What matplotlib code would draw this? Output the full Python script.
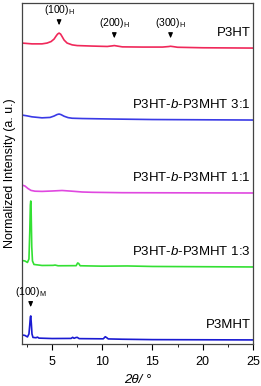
import numpy as np
import matplotlib
matplotlib.use("Agg")
import matplotlib.pyplot as plt
from matplotlib.ticker import MultipleLocator

plt.rcParams['font.family'] = ['Liberation Sans', 'DejaVu Sans']
plt.rcParams['mathtext.fontset'] = 'custom'
plt.rcParams['mathtext.rm'] = 'Liberation Sans'
plt.rcParams['mathtext.it'] = 'Liberation Sans:italic'

# 2theta / intensity (arbitrary units)
x_p3ht = [2.0, 3.0, 4.0, 4.5, 4.9, 5.2, 5.4, 5.55, 5.7, 5.85, 6.0, 6.2, 6.5, 7.0, 7.5, 9.0, 10.5, 11.0, 11.2, 11.5, 12.0, 14.0, 16.0, 16.6, 16.8, 17.1, 17.5, 20.0, 25.0]
y_p3ht = [5.0, 4.2, 4.2, 5.0, 6.5, 9.0, 12.0, 14.0, 15.0, 14.0, 11.5, 8.0, 5.0, 3.2, 2.5, 2.0, 1.6, 2.2, 2.5, 2.0, 1.2, 1.0, 1.0, 1.5, 1.8, 1.4, 0.8, 0.3, 0.0]

x_31 = [2.0, 2.5, 3.0, 4.0, 4.8, 5.2, 5.5, 5.7, 5.9, 6.2, 6.6, 7.0, 8.0, 11.0, 15.0, 25.0]
y_31 = [5.0, 4.2, 3.2, 2.2, 2.6, 4.0, 5.5, 6.0, 5.4, 3.8, 2.4, 1.8, 1.5, 1.0, 0.5, 0.0]

x_11 = [2.0, 2.3, 2.6, 2.9, 3.3, 4.0, 5.0, 6.0, 7.0, 8.0, 9.0, 12.0, 25.0]
y_11 = [8.0, 7.0, 4.5, 2.6, 1.8, 1.6, 2.0, 2.5, 1.8, 1.0, 0.7, 0.3, 0.0]

x_13 = [2.0, 2.3, 2.55, 2.7, 2.78, 2.84, 2.88, 2.92, 2.98, 3.05, 3.2, 4.0, 5.1, 5.3, 5.6, 7.4, 7.55, 7.65, 7.8, 10.0, 12.5, 15.0, 25.0]
y_13 = [6.5, 6.0, 4.5, 8.0, 35.0, 62.0, 66.0, 55.0, 20.0, 6.0, 2.5, 1.5, 1.6, 1.9, 1.2, 1.3, 4.0, 3.5, 1.2, 0.8, 1.0, 0.5, 0.0]

x_m = [2.0, 2.3, 2.55, 2.7, 2.78, 2.84, 2.88, 2.94, 3.0, 3.1, 3.4, 3.55, 3.7, 5.0, 6.9, 7.05, 7.2, 7.35, 7.5, 7.7, 10.1, 10.3, 10.45, 10.6, 12.0, 15.0, 25.0]
y_m = [5.0, 4.5, 3.0, 6.0, 15.0, 23.0, 24.0, 16.0, 6.0, 2.5, 2.2, 2.8, 1.8, 1.4, 1.5, 2.6, 1.6, 2.3, 2.6, 1.3, 1.1, 3.2, 2.2, 1.0, 0.7, 0.3, 0.0]

series = [
    (x_p3ht, y_p3ht, 296, '#f0285a', 'P3HT'),
    (x_31, y_31, 224, '#3a3ae6', r'P3HT-$\mathit{b}$-P3MHT 3:1'),
    (x_11, y_11, 151, '#e048e0', r'P3HT-$\mathit{b}$-P3MHT 1:1'),
    (x_13, y_13, 77, '#33e033', r'P3HT-$\mathit{b}$-P3MHT 1:3'),
    (x_m, y_m, 4, '#1a1ad2', 'P3MHT'),
]

fig = plt.figure(figsize=(2.61, 3.86), dpi=100)
ax = fig.add_axes([0.084, 0.109, 0.885, 0.883])

for xs, ys, off, col, name in series:
    ax.plot(xs, np.array(ys) + off, color=col, lw=1.2)
    ax.text(24.75, off + 9, name, ha='right', va='bottom', fontsize=9.5)

# peak markers
peaks = [(5.7, 316, r'(100)$_{\rm H}$'),
         (11.2, 303, r'(200)$_{\rm H}$'),
         (16.8, 303, r'(300)$_{\rm H}$'),
         (2.87, 34, r'(100)$_{\rm M}$')]
for px, py, lab in peaks:
    ax.annotate('', xy=(px, py), xytext=(px, py + 9),
                arrowprops=dict(arrowstyle='-|>,head_length=0.3,head_width=0.13',
                                color='black', lw=0.8))
    ax.text(px, py + 11, lab, ha='center', va='bottom', fontsize=7.5)

ax.set_xlim(2, 25)
ax.set_ylim(0, 341)
ax.set_yticks([])
ax.xaxis.set_major_locator(MultipleLocator(5))
ax.xaxis.set_minor_locator(MultipleLocator(2.5))
ax.tick_params(axis='x', which='major', direction='out', length=4, labelsize=9, pad=5)
ax.tick_params(axis='x', which='minor', direction='out', length=2.5)
for s in ax.spines.values():
    s.set_color('#444444')
    s.set_linewidth(0.9)

ax.set_xlabel('2θ/ °', fontsize=9.5, style='italic', labelpad=4)
ax.set_ylabel('Normalized Intensity (a. u.)', fontsize=9, labelpad=4)

fig.savefig('out.png', dpi=100)
